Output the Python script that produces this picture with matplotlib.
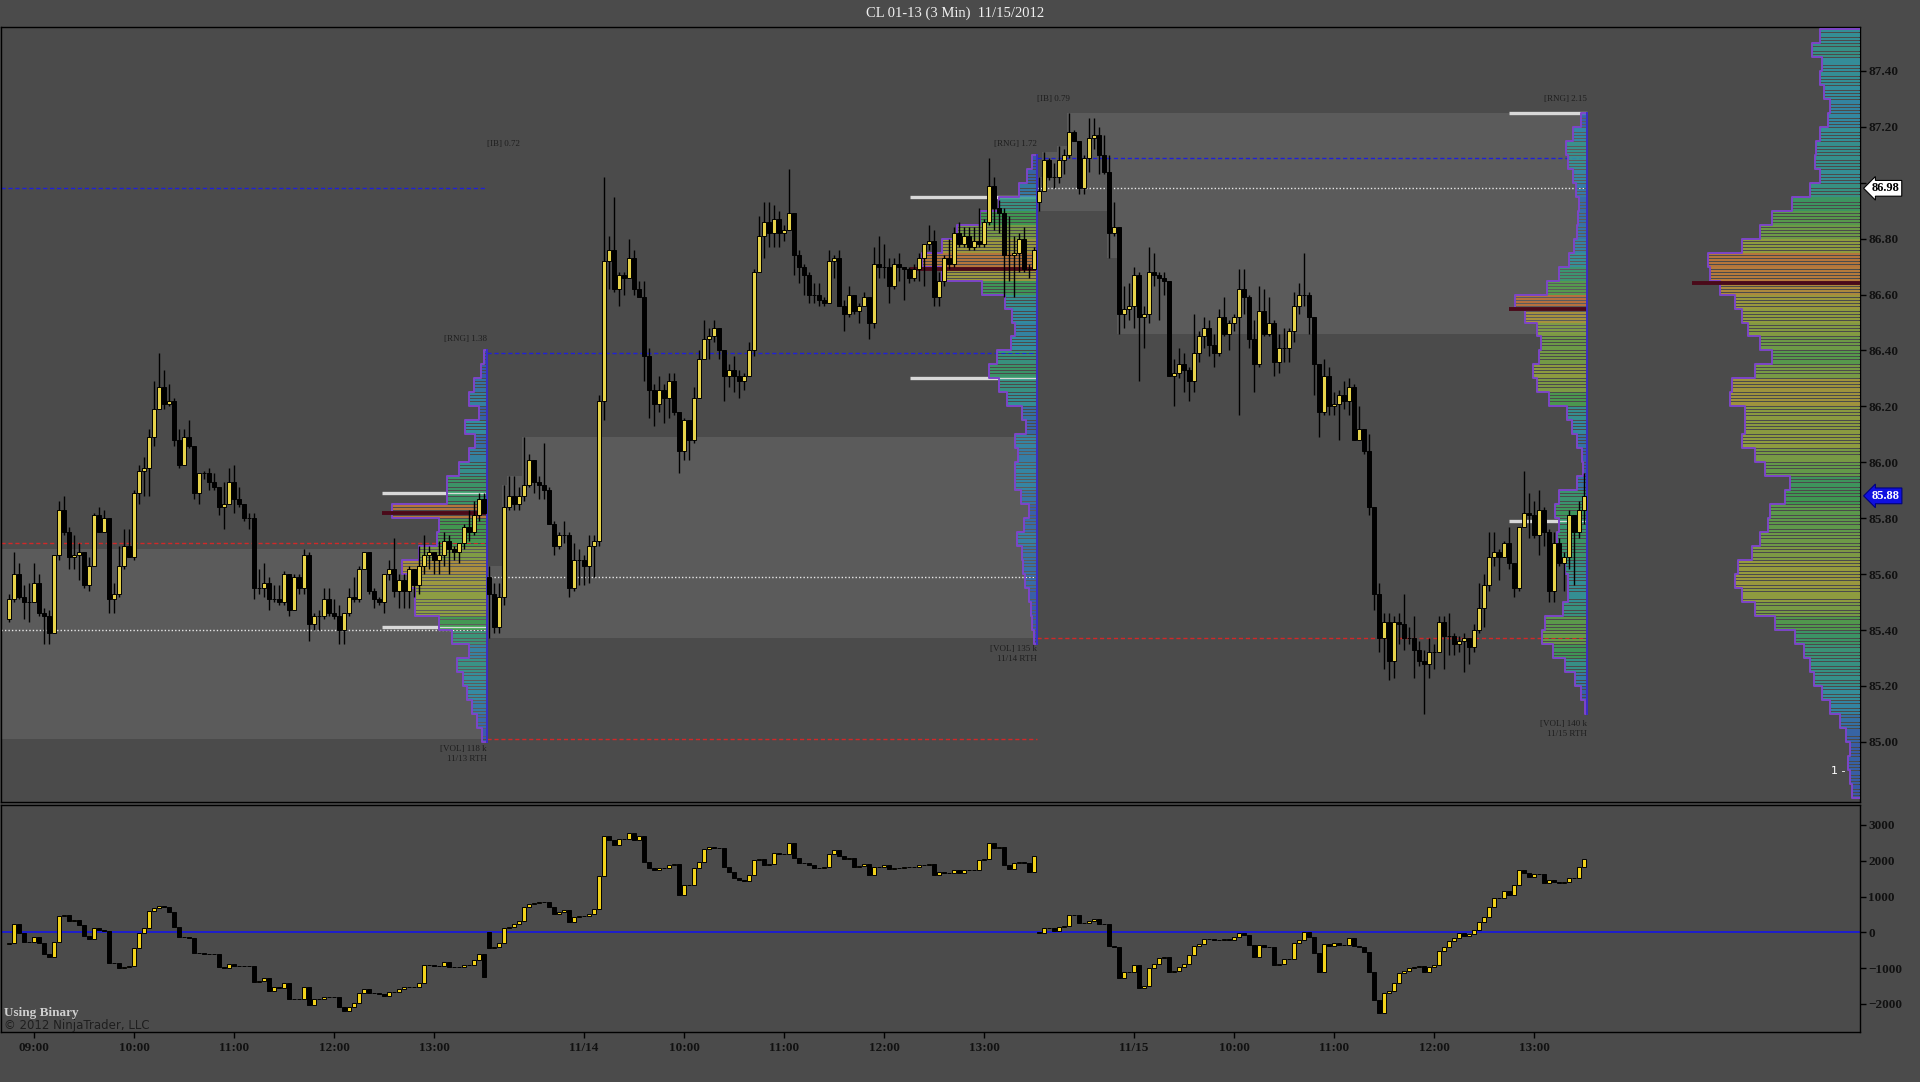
import numpy as np
import matplotlib
matplotlib.use("Agg")
import matplotlib.pyplot as plt
from matplotlib.colors import LinearSegmentedColormap
from matplotlib.transforms import blended_transform_factory

plt.rcParams['font.family'] = ['Liberation Serif', 'DejaVu Serif']

BASE = 85.00  # all price lists below are in cents above BASE

# ---------- session 1 : 11/13 (visible from 08:45) ----------
S1_OPEN = 44
S1_CLOSE = [51, 60, 52, 50, 50, 57, 46, 45, 39, 67, 83, 75, 66, 67, 68, 56, 63, 81, 75, 80,
            51, 53, 63, 70, 66, 89, 97, 98, 109, 119, 127, 121, 122, 108, 99, 109, 106, 89, 96, 96,
            93, 91, 84, 85, 93, 87, 85, 80, 80, 55, 55, 57, 51, 51, 50, 60, 47, 59, 55, 67,
            42, 45, 45, 51, 46, 45, 40, 46, 52, 51, 62, 68, 54, 51, 50, 60, 62, 54, 58, 54,
            62, 56, 63, 67, 68, 65, 67, 72, 69, 68, 71, 77, 75, 81, 87, 82]
S1_HIGH = [53, 68, 64, 56, 57, 64, 60, 48, 47, 67, 86, 88, 77, 74, 71, 66, 66, 82, 84, 83,
           79, 57, 70, 76, 76, 90, 99, 102, 112, 129, 139, 133, 128, 123, 112, 112, 115, 106, 96, 97,
           98, 96, 90, 93, 98, 99, 91, 85, 82, 82, 62, 64, 59, 56, 56, 61, 60, 60, 60, 69,
           68, 46, 47, 55, 55, 51, 49, 46, 55, 59, 63, 68, 68, 55, 52, 60, 65, 73, 60, 60,
           63, 60, 70, 74, 70, 67, 72, 75, 74, 70, 71, 78, 83, 86, 89, 89]
S1_LOW = [43, 50, 51, 44, 43, 50, 45, 35, 35, 39, 65, 74, 62, 62, 58, 55, 54, 63, 75, 75,
          46, 46, 52, 62, 66, 65, 85, 88, 88, 106, 119, 119, 120, 106, 98, 99, 105, 87, 85, 94,
          90, 90, 81, 76, 85, 82, 84, 79, 76, 51, 53, 52, 47, 50, 49, 49, 45, 47, 53, 53,
          36, 40, 40, 44, 45, 44, 35, 35, 45, 50, 50, 62, 53, 48, 49, 46, 58, 52, 48, 48,
          48, 52, 53, 60, 62, 60, 60, 63, 60, 65, 64, 69, 72, 74, 79, 82]

# ---------- session 2 : 11/14 ----------
S2_OPEN = 59
S2_CLOSE = [53, 41, 52, 84, 88, 85, 88, 92, 101, 93, 92, 90, 78, 70, 74, 74, 55, 65, 65, 63,
            70, 72, 122, 172, 176, 162, 167, 166, 173, 162, 159, 138, 126, 121, 126, 123, 129, 118, 104, 115,
            108, 123, 137, 144, 145, 148, 140, 131, 133, 131, 129, 131, 140, 168, 181, 186, 182, 187, 182, 183,
            189, 174, 170, 167, 160, 160, 158, 157, 172, 173, 156, 153, 160, 154, 156, 159, 150, 171, 170, 170,
            163, 171, 170, 169, 166, 169, 173, 178, 179, 159, 165, 173, 171, 182, 178, 181, 177, 179, 178, 186,
            199, 191, 189, 174, 174, 175, 180, 169, 169, 176]
S2_HIGH = [63, 57, 57, 92, 95, 95, 91, 109, 103, 101, 95, 107, 91, 79, 75, 79, 75, 71, 69, 67,
           74, 74, 124, 202, 181, 195, 168, 168, 180, 176, 165, 165, 141, 128, 131, 128, 132, 132, 118, 116,
           115, 127, 140, 151, 148, 151, 148, 140, 135, 138, 133, 132, 143, 169, 188, 193, 193, 192, 190, 185,
           205, 189, 176, 171, 168, 164, 164, 159, 176, 174, 176, 158, 163, 160, 157, 161, 158, 177, 181, 178,
           173, 173, 175, 170, 170, 171, 175, 178, 185, 183, 168, 174, 180, 184, 186, 184, 184, 184, 191, 187,
           209, 202, 194, 191, 188, 181, 182, 184, 171, 177]
S2_LOW = [37, 39, 39, 49, 83, 83, 83, 86, 91, 89, 87, 87, 78, 67, 69, 71, 52, 54, 56, 56,
          57, 59, 70, 115, 162, 161, 156, 160, 166, 160, 159, 129, 116, 113, 118, 114, 116, 117, 96, 101,
          101, 107, 124, 138, 137, 143, 137, 122, 127, 125, 123, 126, 131, 138, 168, 173, 177, 177, 177, 179,
          183, 167, 164, 160, 157, 157, 156, 156, 158, 166, 156, 147, 152, 153, 150, 156, 144, 148, 166, 166,
          157, 162, 165, 158, 164, 165, 165, 163, 176, 156, 156, 163, 169, 170, 177, 177, 176, 176, 177, 177,
          185, 183, 182, 159, 165, 159, 168, 168, 166, 169]

# ---------- session 3 : 11/15 ----------
S3_OPEN = 193
S3_CLOSE = [197, 208, 202, 202, 208, 210, 218, 215, 198, 209, 216, 217, 210, 204, 182, 184, 153, 155, 156, 167,
            152, 153, 168, 167, 166, 165, 131, 132, 135, 133, 129, 139, 145, 148, 142, 139, 152, 146, 150, 152,
            162, 159, 144, 135, 154, 146, 150, 136, 141, 141, 147, 156, 160, 160, 152, 135, 118, 131, 120, 121,
            124, 122, 127, 108, 112, 104, 84, 53, 37, 43, 29, 43, 42, 37, 37, 33, 29, 28, 32, 32,
            43, 38, 38, 35, 36, 37, 34, 40, 48, 56, 66, 68, 66, 71, 64, 55, 77, 82, 81, 74,
            83, 75, 54, 71, 64, 66, 81, 75, 83, 88]
S3_HIGH = [202, 211, 209, 207, 213, 212, 225, 219, 215, 210, 223, 223, 220, 217, 210, 193, 184, 163, 164, 170,
           168, 156, 177, 175, 168, 168, 164, 137, 141, 139, 134, 153, 147, 152, 151, 146, 155, 159, 151, 153,
           169, 169, 160, 151, 163, 162, 159, 151, 146, 148, 148, 161, 164, 175, 161, 152, 134, 137, 134, 125,
           126, 129, 130, 128, 120, 112, 110, 84, 57, 46, 46, 45, 46, 53, 41, 45, 36, 33, 37, 35,
           45, 45, 46, 39, 38, 39, 37, 42, 57, 60, 75, 75, 69, 72, 77, 63, 77, 97, 89, 86,
           90, 84, 76, 75, 73, 68, 83, 81, 86, 96]
S3_LOW = [190, 197, 201, 198, 200, 203, 209, 215, 196, 196, 204, 212, 203, 203, 173, 181, 146, 148, 151, 148,
          129, 141, 150, 163, 151, 160, 131, 120, 130, 125, 122, 125, 136, 141, 138, 134, 138, 145, 140, 147,
          117, 153, 141, 125, 134, 145, 145, 131, 132, 136, 136, 143, 153, 156, 146, 124, 109, 117, 117, 117,
          108, 119, 117, 108, 108, 103, 81, 47, 32, 26, 22, 23, 35, 33, 35, 23, 27, 10, 23, 26,
          33, 26, 31, 31, 32, 25, 28, 32, 39, 41, 54, 63, 58, 67, 62, 52, 54, 77, 73, 73,
          67, 70, 50, 50, 63, 54, 62, 56, 73, 78]

# ---------- cumulative delta (lower panel) ----------
D1_OPEN = -340
D1_CLOSE = [-310, 232, -29, -262, -262, -140, -308, -606, -699, -262, 465, 483, 316, 344, 204, -103,
            -196, 130, 64, 46, -867, -848, -1006, -979, -941, -448, -29, 130, 595, 670, 735, 716,
            576, 157, -140, -140, -150, -588, -588, -606, -606, -606, -979, -1006, -886, -941, -932, -932,
            -932, -1379, -1351, -1286, -1630, -1537, -1565, -1407, -1872, -1863, -1863, -1537, -2030, -1872,
            -1872, -1798, -1798, -1798, -2096, -2189, -2096, -1965, -1686, -1593, -1686, -1705, -1723, -1779,
            -1668, -1658, -1593, -1537, -1518, -1537, -1407, -913, -913, -932, -932, -820, -979, -960,
            -960, -913, -913, -773, -606, -1258]
D2_OPEN = 0
D2_CLOSE = [-448, -400, -290, 111, 139, 232, 325, 716, 790, 828, 856, 856, 716, 511, 576, 623,
            297, 437, 455, 455, 511, 641, 1572, 2690, 2578, 2438, 2596, 2596, 2783, 2578, 2690, 1973,
            1787, 1740, 1787, 1787, 1880, 1908, 1042, 1321, 1321, 1787, 1973, 2317, 2373, 2345, 2345, 1833,
            1693, 1507, 1461, 1442, 1600, 2019, 2038, 1880, 1908, 2224, 2187, 2187, 2485, 2066, 1926, 1926,
            1880, 1787, 1787, 1814, 2187, 2299, 2131, 2038, 2066, 1833, 1852, 1908, 1600, 1833, 1833, 1880,
            1759, 1787, 1787, 1833, 1833, 1833, 1880, 1880, 1908, 1600, 1693, 1665, 1665, 1740, 1665, 1740,
            1740, 1740, 2019, 2038, 2503, 2345, 2392, 1880, 1759, 1945, 1973, 1945, 1693, 2131]
D3_OPEN = 0
D3_CLOSE = [-10, 111, 111, 46, 139, 176, 483, 483, 269, 250, 325, 362, 232, 232, -383, -400,
            -1286, -1100, -1100, -913, -1565, -1500, -1006, -886, -727, -680, -1100, -1072, -960, -886, -634, -383,
            -327, -196, -196, -215, -215, -196, -215, -140, -29, -75, -355, -680, -355, -401, -401, -913,
            -886, -755, -755, -290, -215, 19, -121, -588, -1100, -327, -383, -290, -355, -355, -168, -383,
            -401, -541, -1100, -1891, -2263, -1705, -1630, -1426, -1146, -1072, -1006, -960, -932, -1100, -979, -913,
            -513, -401, -233, -168, -29, -103, -47, 64, 297, 437, 716, 949, 949, 1163, 1042, 1321,
            1740, 1647, 1535, 1628, 1628, 1386, 1461, 1414, 1386, 1414, 1507, 1507, 1833, 2038]

# ---------- volume profiles (5-cent rows, arbitrary volume units) ----------
P1_START, P1_POC, P1_POC_VOL = 85.00, 85.82, 105
P1_VOL = [5, 10, 15, 20, 24, 30, 18, 35, 48, 72, 72, 78, 85, 68, 50, 48, 95, 40, 40, 28,
          18, 12, 22, 8, 18, 13, 6, 3]
P2_START, P2_POC, P2_POC_VOL = 85.35, 86.69, 127
P2_VOL = [3, 5, 6, 8, 12, 14, 15, 20, 13, 8, 16, 22, 22, 19, 22, 11, 15, 30, 38, 48,
          40, 26, 22, 25, 32, 55, 95, 115, 95, 80, 57, 38, 18, 10, 5]
P3_START, P3_POC, P3_POC_VOL = 85.10, 86.55, 78
P3_VOL = [2, 6, 12, 22, 34, 45, 42, 24, 19, 19, 22, 28, 30, 28, 32, 28, 10, 4, 5, 10,
          15, 20, 38, 50, 54, 48, 46, 50, 62, 72, 40, 28, 18, 13, 10, 9, 8, 11, 14, 19, 21, 14, 6]
PC_START, PC_POC, PC_POC_VOL = 84.80, 86.64, 168
PC_VOL = [8, 10, 12, 10, 14, 20, 30, 38, 46, 50, 56, 65, 85, 105, 118, 125, 122, 108, 100, 92,
          90, 75, 70, 95, 105, 118, 115, 115, 130, 128, 105, 88, 100, 112, 118, 125, 140, 150, 152, 118,
          100, 88, 68, 50, 40, 45, 44, 40, 32, 30, 36, 40, 38, 48, 40]

# ---------- session reference levels ----------
SESSIONS = ['11/13', '11/14', '11/15']
SESS_VOL = ['118 k', '135 k', '140 k']
SESS_LOW = [85.01, 85.37, 85.10]
SESS_HIGH = [86.39, 87.09, 87.25]
IB_RANGE = [None, '0.72', '0.79']
PRIOR_HIGH = [86.98, 86.39, 87.09]
PRIOR_LOW = [85.71, 85.01, 85.37]
OPEN_PRICE = [85.40, 85.59, 86.98]
VA_LOW = [85.41, 86.30, 85.79]
VA_HIGH = [85.89, 86.95, 87.25]
S1_IB = (85.01, 85.69)

TICK_POS = [5, 25, 45, 65, 85, 115, 135, 155, 175, 195, 225, 245, 265, 285, 305]
TICK_LABELS = ['09:00', '10:00', '11:00', '12:00', '13:00', '11/14', '10:00', '11:00', '12:00', '13:00',
               '11/15', '10:00', '11:00', '12:00', '13:00']
PRICE_TICKS = [85.00, 85.20, 85.40, 85.60, 85.80, 86.00, 86.20, 86.40, 86.60, 86.80, 87.00, 87.20, 87.40]
LAST_PRICE = 85.88

BG = '#4b4b4b'
BOX = '#5b5b5b'
PX = 5.0  # pixels per bar
cmap = LinearSegmentedColormap.from_list(
    'vol', [(0.0, '#3848b8'), (0.2, '#2e98b0'), (0.45, '#3ea453'),
            (0.72, '#a2aa3c'), (0.88, '#c88a3a'), (1.0, '#c4503c')])


def to_price(a):
    return BASE + np.asarray(a, float) / 100.0


def candles(ax, x, o, h, l, c, up_color, wicks=True):
    o, h, l, c = map(np.asarray, (o, h, l, c))
    if wicks:
        hh = np.maximum(h, np.maximum(o, c))
        ll = np.minimum(l, np.minimum(o, c))
        ax.vlines(x, ll, hh, colors='black', lw=1.0, zorder=6)
    up = c >= o
    ax.bar(x[up], (c - o)[up], bottom=o[up], width=0.62, color=up_color,
           edgecolor='black', lw=0.7, zorder=7)
    ax.bar(x[~up], (o - c)[~up], bottom=c[~up], width=0.62, color='black',
           edgecolor='black', lw=0.7, zorder=7)


def profile(ax, right, start, vols, poc, poc_vol, edge_line=True):
    vols = np.asarray(vols, float)
    ys, ws = [], []
    for i, v in enumerate(vols):
        for k in range(5):
            ys.append(start + 0.05 * i + 0.01 * k)
            ws.append(v)
    ys = np.array(ys)
    ws = np.array(ws)
    cols = cmap(np.clip(ws / poc_vol, 0, 1))
    ax.barh(ys, ws / PX, left=right - ws / PX, height=0.0072, align='edge',
            color=cols, alpha=0.85, lw=0, zorder=4)
    px, py = [right], [start]
    for i, v in enumerate(vols):
        xl = right - v / PX
        px += [xl, xl]
        py += [start + 0.05 * i, start + 0.05 * (i + 1)]
    px.append(right)
    py.append(start + 0.05 * len(vols))
    ax.plot(px, py, color='#7d45c8', lw=1.4, zorder=4.5)
    ax.plot([right - poc_vol / PX, right], [poc, poc], color='#4a0a1a', lw=2.8,
            solid_capstyle='butt', zorder=5)
    if edge_line:
        ax.plot([right, right], [start, start + 0.05 * len(vols)], color='#3c2cc8', lw=1.4, zorder=5)


fig = plt.figure(figsize=(19.2, 10.82), dpi=100, facecolor=BG)
ax = fig.add_axes([1 / 1920, 1 - 802 / 1082, 1859 / 1920, 775 / 1082], facecolor=BG)
axd = fig.add_axes([1 / 1920, 1 - 1032 / 1082, 1859 / 1920, 227 / 1082], facecolor=BG)
XMIN, XMAX = -1.6, 370.2
ax.set_xlim(XMIN, XMAX)
axd.set_xlim(XMIN, XMAX)
ax.set_ylim(84.785, 87.557)
axd.set_ylim(-2785, 3556)

sess = [
    (np.arange(96), S1_OPEN, S1_CLOSE, S1_HIGH, S1_LOW, D1_OPEN, D1_CLOSE, P1_START, P1_VOL, P1_POC, P1_POC_VOL),
    (96 + np.arange(110), S2_OPEN, S2_CLOSE, S2_HIGH, S2_LOW, D2_OPEN, D2_CLOSE, P2_START, P2_VOL, P2_POC, P2_POC_VOL),
    (206 + np.arange(110), S3_OPEN, S3_CLOSE, S3_HIGH, S3_LOW, D3_OPEN, D3_CLOSE, P3_START, P3_VOL, P3_POC, P3_POC_VOL),
]

lbl = dict(fontsize=6.5, color='#1e1e1e', zorder=8)
for s, (g, op, cl, hi, lo, dop, dcl, pst, pvol, poc, pocv) in enumerate(sess):
    c = to_price(cl)
    o = np.concatenate([[to_price(op)], c[:-1]])
    h = to_price(hi)
    l = to_price(lo)
    left = XMIN if s == 0 else g[0] - 0.5
    right = g[-1] + 0.6

    # initial balance box (developing during the first hour)
    if s == 0:
        ax.fill_between([left, right], S1_IB[0], S1_IB[1], color=BOX, lw=0, zorder=1)
    else:
        top = np.maximum.accumulate(np.maximum(h[:20], np.maximum(o[:20], c[:20])))
        bot = np.minimum.accumulate(np.minimum(l[:20], np.minimum(o[:20], c[:20])))
        xs = np.append(g[:20] - 0.5, right)
        ax.fill_between(xs, np.append(bot, bot[-1]), np.append(top, top[-1]),
                        step='post', color=BOX, lw=0, zorder=1)

    ax.plot([left, right], [PRIOR_HIGH[s]] * 2, color='#2020d8', lw=1.0, ls=(0, (3, 2)), zorder=2)
    ax.plot([left, right], [PRIOR_LOW[s]] * 2, color='#d02828', lw=1.0, ls=(0, (3, 2)), zorder=2)
    ax.plot([left, right], [OPEN_PRICE[s]] * 2, color='#e8e8e8', lw=1.0, ls=(0, (1, 1.5)), zorder=2)
    for va in (VA_LOW[s], VA_HIGH[s]):
        ax.plot([right - pocv / PX, right], [va, va], color='#d8d8d8', lw=2.4,
                solid_capstyle='butt', zorder=3)

    profile(ax, right, pst, pvol, poc, pocv)
    candles(ax, g, o, h, l, c, '#e6d24a')

    d = np.asarray(dcl, float)
    do = np.concatenate([[dop], d[:-1]])
    candles(axd, g, do, d, d, d, '#f2d21b', wicks=False)

    ax.text(right, SESS_HIGH[s] + 0.05, '[RNG] %.2f' % (SESS_HIGH[s] - SESS_LOW[s]),
            ha='right', va='center', **lbl)
    if IB_RANGE[s]:
        ax.text(g[0] - 0.4, SESS_HIGH[s] + 0.05, '[IB] ' + IB_RANGE[s], ha='left', va='center', **lbl)
    ax.text(right, SESS_LOW[s] - 0.037, '[VOL] ' + SESS_VOL[s], ha='right', va='center', **lbl)
    ax.text(right, SESS_LOW[s] - 0.072, SESSIONS[s] + ' RTH', ha='right', va='center', **lbl)

# composite profile on the right edge
profile(ax, XMAX, PC_START, PC_VOL, PC_POC, PC_POC_VOL, edge_line=False)
ax.text(364.4, 84.886, '1 -', color='white', fontsize=8, family='DejaVu Sans', zorder=8)

axd.axhline(0, color='#1a1ad8', lw=1.3, zorder=2)

# axes styling
for a in (ax, axd):
    for sp in a.spines.values():
        sp.set_color('black')
        sp.set_linewidth(1.0)
    a.yaxis.tick_right()
    a.tick_params(axis='y', direction='out', length=4, width=1, color='black', pad=2,
                  labelsize=9.5, labelcolor='#111111')
ax.set_xticks([])
ax.set_yticks(PRICE_TICKS)
# the 87.00 label sits under the session-open price marker, as in the platform
ax.set_yticklabels(['' if abs(v - 87.0) < 1e-9 else '%.2f' % v for v in PRICE_TICKS])
axd.set_yticks([-2000, -1000, 0, 1000, 2000, 3000])
axd.set_xticks(TICK_POS)
axd.set_xticklabels(TICK_LABELS)
axd.tick_params(axis='x', direction='out', length=4, width=1, color='black', pad=3,
                labelsize=9.5, labelcolor='#111111')
for t in ax.get_yticklabels() + axd.get_yticklabels() + axd.get_xticklabels():
    t.set_fontweight('bold')

tr = blended_transform_factory(ax.transAxes, ax.transData)
ax.text(1 + 12 / 1859, OPEN_PRICE[2], '%.2f' % OPEN_PRICE[2], transform=tr, ha='left', va='center',
        fontsize=9, fontweight='bold', color='black', clip_on=False, zorder=10,
        bbox=dict(boxstyle='larrow,pad=0.15', fc='white', ec='black', lw=0.8))
ax.text(1 + 12 / 1859, LAST_PRICE, '%.2f' % LAST_PRICE, transform=tr, ha='left', va='center',
        fontsize=9, fontweight='bold', color='white', clip_on=False, zorder=10,
        bbox=dict(boxstyle='larrow,pad=0.15', fc='#1010e0', ec='#000080', lw=0.8))

axd.text(3 / 1859, 0.07, 'Using Binary', transform=axd.transAxes, fontsize=9.5,
         fontweight='bold', color='#d0d0d0', zorder=9)
axd.text(3 / 1859, 0.012, '\u00a9 2012 NinjaTrader, LLC', transform=axd.transAxes, fontsize=8.5,
         family='DejaVu Sans', color='#1e1e1e', zorder=9)

fig.text(955 / 1920, 1 - 13 / 1082, 'CL 01-13 (3 Min)  11/15/2012', ha='center', va='center',
         fontsize=10.5, color='#f0f0f0')

fig.savefig('out.png', dpi=100, facecolor=BG)
